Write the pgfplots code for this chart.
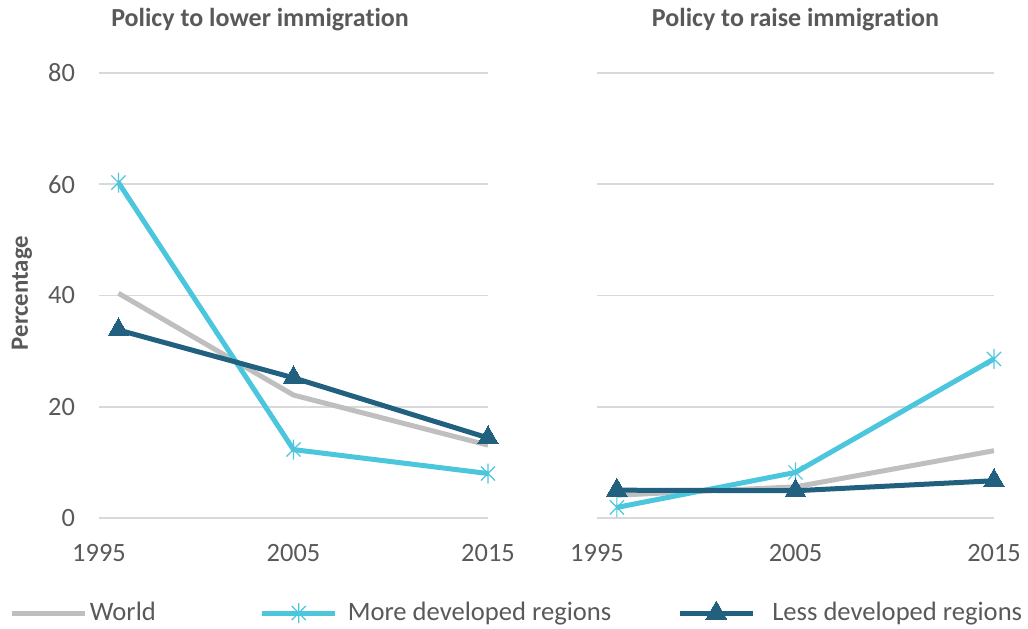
\documentclass[border=0pt]{standalone}
\usepackage{fontspec}
\setmainfont{Carlito}[Ligatures=CommonOff]
\usepackage{pgfplots}
\pgfplotsset{compat=1.18}

\definecolor{worldgrey}{HTML}{BFBFBF}
\definecolor{moredev}{HTML}{4BC6DD}
\definecolor{lessdev}{HTML}{21607E}
\definecolor{txt}{HTML}{595959}
\definecolor{gridc}{HTML}{D9D9D9}

% asterisk-like mark: vertical stroke plus two diagonals
\pgfdeclareplotmark{xstar}{%
  \pgfpathmoveto{\pgfqpoint{0pt}{\pgfplotmarksize}}%
  \pgfpathlineto{\pgfqpoint{0pt}{-\pgfplotmarksize}}%
  \pgfpathmoveto{\pgfqpoint{0.7071\pgfplotmarksize}{0.7071\pgfplotmarksize}}%
  \pgfpathlineto{\pgfqpoint{-0.7071\pgfplotmarksize}{-0.7071\pgfplotmarksize}}%
  \pgfpathmoveto{\pgfqpoint{-0.7071\pgfplotmarksize}{0.7071\pgfplotmarksize}}%
  \pgfpathlineto{\pgfqpoint{0.7071\pgfplotmarksize}{-0.7071\pgfplotmarksize}}%
  \pgfusepathqstroke}

\pgfplotsset{
  panel/.style={
    scale only axis, height=222.5bp,
    xmin=1995, xmax=2015, ymin=0, ymax=80,
    xtick={1995,2005,2015}, ytick={0,20,40,60,80},
    axis line style={draw=none}, major tick length=0pt,
    ymajorgrids, grid style={draw=gridc, line width=0.8bp},
    /pgf/number format/assume math mode=true,
    /pgf/number format/1000 sep={},
    ticklabel style={font=\fontsize{13.2bp}{16bp}\selectfont, text=txt},
    xticklabel style={yshift=-9.5bp},
    yticklabel style={xshift=-8.5bp},
    title style={font=\fontsize{13bp}{15bp}\selectfont\bfseries, text=txt, anchor=center, yshift=20.5bp},
  },
  world/.style={worldgrey, line width=2.5bp},
  more/.style={moredev, line width=2.5bp, mark=xstar, mark size=5bp,
    mark options={line width=0.6bp, solid}},
  less/.style={lessdev, line width=2.5bp, mark=triangle*, mark size=6bp,
    mark options={line width=0pt, fill=lessdev}},
}

\begin{document}
\begin{tikzpicture}
\useasboundingbox (0,0) rectangle (514bp,314.5bp);

% Policy to lower immigration
\begin{axis}[panel, width=194.5bp,
  at={(49.5bp,55.5bp)}, anchor=south west,
  title={Policy to lower immigration},
  title style={at={(0.414,1)}},
  legend columns=3,
  legend style={draw=none, fill=none, inner sep=0pt, outer sep=0pt,
    anchor=west, at={(-0.229,-0.2135)},
    font=\fontsize{13.3bp}{16bp}\selectfont, text=txt,
    /tikz/column 2/.style={column sep=50bp},
    /tikz/column 4/.style={column sep=31bp}},
  legend image code/.code={%
    \draw[mark repeat=2, mark phase=2, #1]
      plot coordinates {(0bp,0bp) (18.25bp,0bp) (36.5bp,0bp)};},
]
\addplot[world] coordinates {(1996,40.4) (2005,22.1) (2015,13.1)};
\addlegendentry{\hspace{-1bp}World}
\addplot[more] coordinates {(1996,60.3) (2005,12.3) (2015,8.0)};
\addlegendentry{\hspace{3bp}More developed regions}
\addplot[less] coordinates {(1996,33.8) (2005,25.2) (2015,14.4)};
\addlegendentry{\hspace{6.5bp}Less developed regions}
\end{axis}

% Policy to raise immigration
\begin{axis}[panel, width=198.5bp,
  at={(298.5bp,55.5bp)}, anchor=south west,
  title={Policy to raise immigration},
  title style={at={(0.5,1)}},
  yticklabels={},
]
\addplot[world] coordinates {(1996,4.1) (2005,5.6) (2015,12.1)};
\addplot[more] coordinates {(1996,1.9) (2005,8.2) (2015,28.6)};
\addplot[less] coordinates {(1996,5.0) (2005,4.9) (2015,6.7)};
\end{axis}

\node[rotate=90, font=\fontsize{12.4bp}{15bp}\selectfont\bfseries, text=txt]
  at (11bp,168bp) {Percentage};
\end{tikzpicture}
\end{document}
